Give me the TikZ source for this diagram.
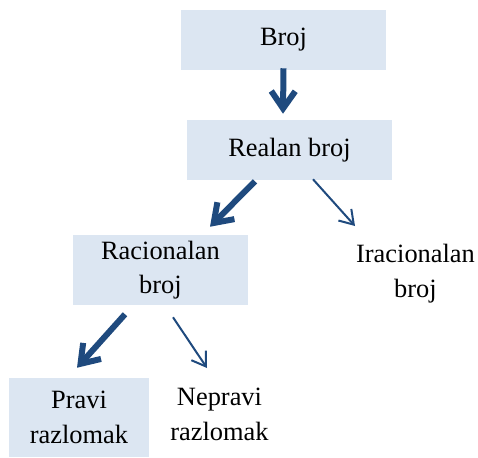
\documentclass[tikz,border=0pt]{standalone}
\usepackage{fontspec}
\setmainfont{Liberation Serif}
\usetikzlibrary{arrows.meta, calc}
\definecolor{boxblue}{HTML}{DCE6F2}
\definecolor{arrowblue}{HTML}{1F4A7E}
\tikzset{
    block/.style={
        rectangle,
        fill=boxblue,
        inner sep=0pt,
        align=center,
        font=\fontsize{19.8}{26}\selectfont
    },
    textlabel/.style={
        inner sep=0pt,
        align=center,
        font=\fontsize{19.8}{26}\selectfont
    },
    arrow/.style={
        draw=arrowblue,
        line width=4.5pt,
        -{Straight Barb[length=13pt,width=18pt]}
    },
    thinarrow/.style={
        draw=arrowblue,
        line width=1.5pt,
        -{Straight Barb[length=10pt,width=13pt]}
    }
}

\begin{document}
\begin{tikzpicture}[x=0.75pt, y=-0.75pt]

    \useasboundingbox (0,0) rectangle (478,457);

    % Broj
    \node[block, minimum width=153.75pt, minimum height=45pt] (broj) at (283.5,40) {Broj};

    % Realan broj
    \node[block, minimum width=153.75pt, minimum height=45pt] (realan) at (289.5,150) {Realan broj};

    % Racionalan / Iracionalan
    \node[block, minimum width=131.25pt, minimum height=52.5pt] (racional) at (160.5,270) {Racionalan\\broj};
    \node[textlabel] (iracional) at (415.5,273.7) {Iracionalan\\broj};

    % Pravi / Nepravi razlomak
    \node[block, minimum width=105pt, minimum height=59.25pt] (pravi) at (79,417.5) {Pravi\\razlomak};
    \node[textlabel] (nepravi) at (219.5,414.3) {Nepravi\\razlomak};

    % Arrows
    \draw[arrow] ([shift={(0,-2)}]broj.south) -- ([shift={(-6.5,-6)}]realan.north);
    \draw[arrow] ([shift={(-34.5,1)}]realan.south) -- ([shift={(49.5,-8)}]racional.north);
    \draw[thinarrow] ([shift={(23.5,-1)}]realan.south) -- ([shift={(-60.5,-47.7)}]iracional.center);
    \draw[arrow] ([shift={(-35.5,9)}]racional.south) -- ([shift={(-2,-10)}]pravi.north);
    \draw[thinarrow] ([shift={(12.5,12)}]racional.south) -- ([shift={(-12.5,-46.3)}]nepravi.center);

\end{tikzpicture}
\end{document}
